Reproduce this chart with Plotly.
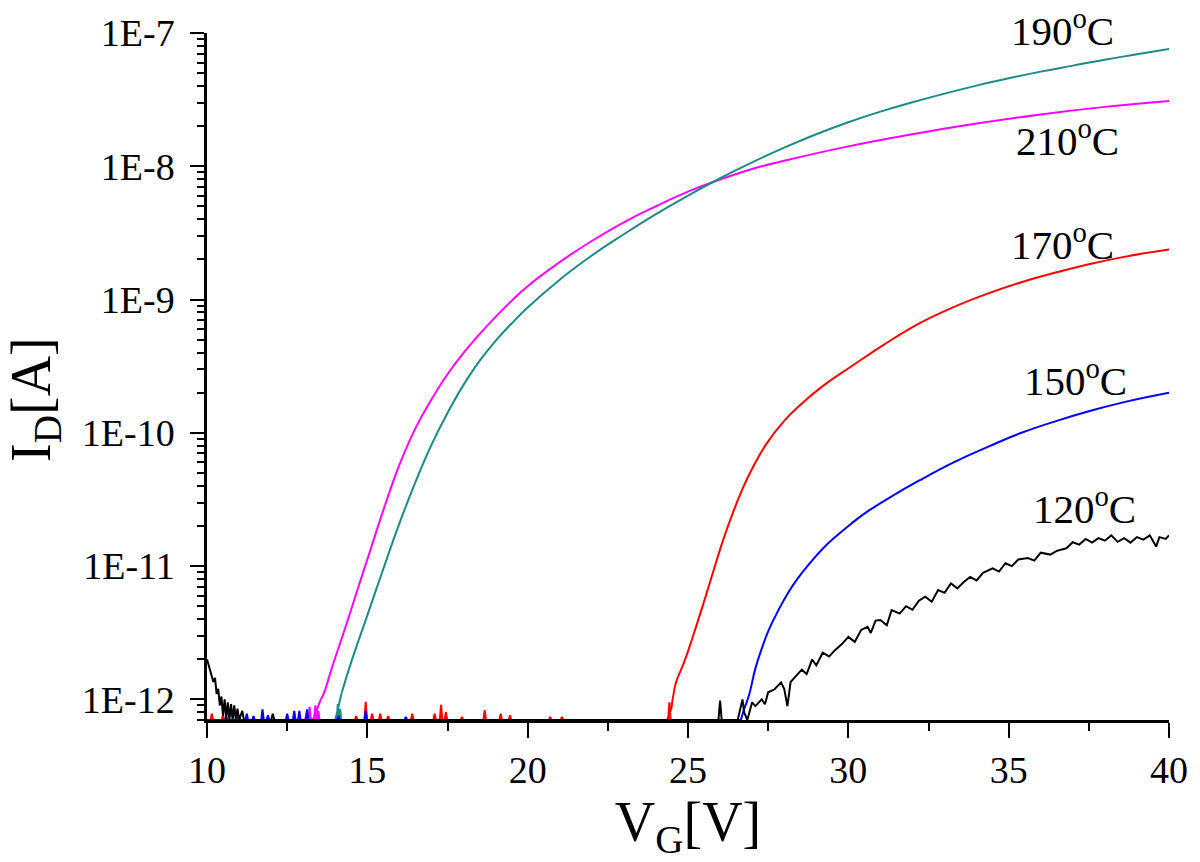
import plotly.graph_objects as go
import math

# ---------------- data (V_G in volts, I_D in amperes) ----------------
FLOOR_I = 7.0e-13  # instrument floor, shown on the bottom axis

# 210 C (magenta)
v210_floor = [10.0, 13.3]
v210_spike_v = [13.1, 13.2, 13.38, 13.47]
v210_spike_i = [0.78e-12, 0.88e-12, 0.9e-12, 0.82e-12]
v210 = [13.55, 13.65, 13.9, 14.33, 14.73, 15.04, 15.5, 16.0, 16.5, 17.0, 17.5, 18.0, 18.5, 19.0,
        19.5, 20.0, 21.0, 22.0, 23.0, 24.0, 25.0, 26.0, 27.0, 28.0, 30.0, 32.0, 34.0, 36.0, 38.0, 40.0]
i210 = [1.0e-12, 1.12e-12, 1.74e-12, 3.55e-12, 7.08e-12, 1.2e-11, 2.63e-11, 5.75e-11, 1.08e-10,
        1.78e-10, 2.75e-10, 3.98e-10, 5.5e-10, 7.41e-10, 9.77e-10, 1.26e-9, 1.91e-9, 2.75e-9, 3.8e-9,
        5.01e-9, 6.46e-9, 7.94e-9, 9.55e-9, 1.10e-8, 1.41e-8, 1.74e-8, 2.09e-8, 2.45e-8, 2.79e-8,
        3.09e-8]

# 190 C (teal)
v190_floor = [10.0, 14.0]
v190_spike_v = [14.08, 14.15]
v190_spike_i = [0.92e-12, 0.85e-12]
v190 = [14.2, 14.5, 15.0, 15.5, 16.0, 16.5, 17.0, 17.5, 18.0, 18.5, 19.0, 19.5, 20.0, 21.0, 22.0,
        23.0, 24.0, 25.0, 26.0, 27.0, 28.0, 29.0, 30.0, 31.0, 32.0, 33.0, 34.0, 35.0, 36.0, 37.0,
        38.0, 39.0, 40.0]
i190 = [1.12e-12, 1.91e-12, 4.27e-12, 9.55e-12, 2.09e-11, 4.27e-11, 8.13e-11, 1.41e-10, 2.29e-10,
        3.47e-10, 4.9e-10, 6.61e-10, 8.71e-10, 1.41e-9, 2.14e-9, 3.09e-9, 4.37e-9, 6.03e-9, 8.13e-9,
        1.07e-8, 1.38e-8, 1.74e-8, 2.14e-8, 2.57e-8, 3.02e-8, 3.51e-8, 4.03e-8, 4.57e-8, 5.13e-8,
        5.69e-8, 6.31e-8, 6.92e-8, 7.59e-8]

# 170 C (red)
v170_floor = [10.0, 24.35]
v170_spike_v = [10.15, 10.5, 14.65, 14.95, 15.15, 15.4, 15.65, 16.4, 17.1, 17.3, 17.45, 17.95,
                18.66, 19.16, 19.45, 20.7, 21.07, 24.42]
v170_spike_i = [0.78e-12, 0.76e-12, 0.75e-12, 0.96e-12, 0.78e-12, 0.78e-12, 0.75e-12, 0.78e-12,
                0.78e-12, 0.91e-12, 0.8e-12, 0.74e-12, 0.83e-12, 0.78e-12, 0.76e-12, 0.74e-12,
                0.74e-12, 0.95e-12]
v170 = [24.48, 24.55, 24.63, 24.88, 25.15, 25.47, 25.75, 26.1, 26.4, 26.7, 27.0, 27.45, 28.0, 28.5,
        29.2, 30.1, 31.1, 32.2, 33.3, 34.4, 35.4, 36.5, 37.5, 38.6, 40.0]
i170 = [0.85e-12, 1.1e-12, 1.35e-12, 1.9e-12, 2.95e-12, 5.13e-12, 8.5e-12, 1.58e-11, 2.51e-11,
        3.80e-11, 5.37e-11, 8.3e-11, 1.23e-10, 1.62e-10, 2.24e-10, 3.16e-10, 4.57e-10, 6.6e-10,
        8.81e-10, 1.12e-9, 1.35e-9, 1.60e-9, 1.84e-9, 2.09e-9, 2.37e-9]

# 150 C (blue)
v150_floor = [10.0, 26.65]
v150_spike_v = [10.6, 11.0, 11.24, 11.45, 11.73, 11.9, 12.5, 12.72, 12.88, 13.12, 14.1, 14.95, 16.2]
v150_spike_i = [0.74e-12, 0.76e-12, 0.78e-12, 0.75e-12, 0.84e-12, 0.76e-12, 0.78e-12, 0.82e-12,
                0.82e-12, 0.84e-12, 0.75e-12, 0.82e-12, 0.74e-12]
v150 = [26.75, 26.9, 27.1, 27.3, 27.5, 27.8, 28.1, 28.4, 28.8, 29.2, 29.6, 30.1, 30.6, 31.4, 32.2,
        33.3, 34.4, 35.4, 36.5, 37.5, 38.6, 40.0]
i150 = [0.85e-12, 1.07e-12, 1.70e-12, 2.40e-12, 3.24e-12, 4.57e-12, 6.17e-12, 7.94e-12, 1.05e-11,
        1.35e-11, 1.66e-11, 2.09e-11, 2.57e-11, 3.39e-11, 4.37e-11, 6.03e-11, 7.94e-11, 1.0e-10,
        1.23e-10, 1.45e-10, 1.70e-10, 2.0e-10]

# 120 C (black, noisy)
v120 = [10.0, 10.08, 10.15, 10.2, 10.25, 10.3, 10.35, 10.4, 10.45, 10.5, 10.55, 10.6, 10.65, 10.7,
        10.75, 10.8, 10.85, 10.9, 10.95, 11.0, 11.1, 11.15, 12.0, 12.05, 12.1, 25.95, 26.0, 26.05,
        26.55, 26.7, 26.75, 26.85, 27.0, 27.1, 27.3, 27.4, 27.5, 27.7, 27.9, 28.0, 28.1, 28.2, 28.35,
        28.55, 28.7, 28.87, 29.0, 29.2, 29.4, 29.6, 29.8, 30.0, 30.2, 30.4, 30.6, 30.7, 30.85, 31.0,
        31.2, 31.35, 31.6, 31.8, 32.0, 32.2, 32.4, 32.6, 32.8, 33.0, 33.2, 33.4, 33.6, 33.8, 34.0,
        34.2, 34.5, 34.7, 34.9, 35.1, 35.3, 35.6, 35.8, 36.0, 36.3, 36.5, 36.8, 37.0, 37.2, 37.4,
        37.6, 37.8, 38.0, 38.2, 38.4, 38.6, 38.8, 39.0, 39.2, 39.4, 39.6, 39.7, 39.9, 40.0]
i120 = [2.0e-12, 1.7e-12, 1.55e-12, 1.35e-12, 1.45e-12, 1.1e-12, 1.2e-12, 0.9e-12, 1.05e-12,
        0.75e-12, 1.0e-12, 0.72e-12, 0.95e-12, 0.7e-12, 0.92e-12, 0.7e-12, 0.9e-12, 0.7e-12,
        0.85e-12, 0.7e-12, 0.82e-12, 0.7e-12, 0.7e-12, 0.78e-12, 0.7e-12, 0.7e-12, 0.98e-12,
        0.7e-12, 0.7e-12, 1.0e-12, 0.8e-12, 0.7e-12, 0.95e-12, 0.89e-12, 1.0e-12, 0.92e-12,
        1.13e-12, 1.19e-12, 1.34e-12, 1.2e-12, 0.89e-12, 1.35e-12, 1.48e-12, 1.67e-12, 1.55e-12,
        1.99e-12, 1.8e-12, 2.24e-12, 2.1e-12, 2.36e-12, 2.6e-12, 2.94e-12, 2.7e-12, 3.32e-12,
        3.5e-12, 3.15e-12, 3.9e-12, 3.94e-12, 3.6e-12, 4.68e-12, 4.4e-12, 5.0e-12, 4.7e-12,
        5.5e-12, 5.9e-12, 5.4e-12, 6.6e-12, 6.3e-12, 7.4e-12, 6.8e-12, 7.6e-12, 8.3e-12, 7.8e-12,
        8.9e-12, 9.6e-12, 9.1e-12, 1.05e-11, 1.0e-11, 1.12e-11, 1.15e-11, 1.1e-11, 1.26e-11,
        1.22e-11, 1.3e-11, 1.36e-11, 1.51e-11, 1.45e-11, 1.6e-11, 1.5e-11, 1.62e-11, 1.55e-11,
        1.7e-11, 1.52e-11, 1.62e-11, 1.5e-11, 1.65e-11, 1.58e-11, 1.7e-11, 1.4e-11, 1.65e-11,
        1.6e-11, 1.7e-11]

labels = ["190<sup>o</sup>C", "210<sup>o</sup>C", "170<sup>o</sup>C", "150<sup>o</sup>C", "120<sup>o</sup>C"]
label_v = [36.69, 36.85, 36.69, 37.09, 37.37]
label_i = [1.089e-7, 1.626e-8, 2.69e-9, 2.58e-10, 2.82e-11]

y_tick_vals = [1e-12, 1e-11, 1e-10, 1e-9, 1e-8, 1e-7]
y_tick_text = ["1E-12", "1E-11", "1E-10", "1E-9", "1E-8", "1E-7"]
x_tick_vals = [10, 15, 20, 25, 30, 35, 40]

x_title = "V<sub>G</sub>[V]"
y_title = "I<sub>D</sub>[A]"

# ---------------- figure ----------------
FONT = "Liberation Serif, Times New Roman, serif"
C210, C190, C170, C150, C120 = "#ff00ff", "#1e8a8a", "#ff0000", "#0000ff", "#000000"
Y_MIN, Y_MAX = math.log10(7e-13), -7.0


def floor_trace(rng, sv, si):
    xs, ys = [rng[0]], [FLOOR_I]
    for v, i in sorted(zip(sv, si)):
        xs += [v - 0.04, v, v + 0.04]
        ys += [FLOOR_I, i, FLOOR_I]
    xs.append(rng[1])
    ys.append(FLOOR_I)
    return xs, ys


fig = go.Figure()
series = [
    (v210_floor, v210_spike_v, v210_spike_i, v210, i210, C210),
    (v190_floor, v190_spike_v, v190_spike_i, v190, i190, C190),
    (v170_floor, v170_spike_v, v170_spike_i, v170, i170, C170),
    (v150_floor, v150_spike_v, v150_spike_i, v150, i150, C150),
]
for fl, sv, si, vv, ii, col in series:
    fx, fy = floor_trace(fl, sv, si)
    # join the floor segment to the rising part of the curve
    fig.add_trace(go.Scatter(x=fx + [vv[0]], y=fy + [ii[0]], mode="lines",
                             line=dict(color=col, width=2), showlegend=False, hoverinfo="skip"))
    fig.add_trace(go.Scatter(x=vv, y=ii, mode="lines",
                             line=dict(color=col, width=2, shape="spline", smoothing=1.3),
                             showlegend=False))
fig.add_trace(go.Scatter(x=v120, y=i120, mode="lines", line=dict(color=C120, width=2),
                         showlegend=False))

for t, v, i in zip(labels, label_v, label_i):
    fig.add_annotation(x=v, y=(math.log10(i) - Y_MIN) / (Y_MAX - Y_MIN), xref="x", yref="paper",
                       text=t, showarrow=False, xanchor="center", yanchor="middle",
                       font=dict(family=FONT, size=41, color="black"))

# y-axis title placed as rotated annotation
fig.add_annotation(x=-0.179, y=0.467, xref="paper", yref="paper", text=y_title, textangle=-90,
                   showarrow=False, xanchor="center", yanchor="middle",
                   font=dict(family=FONT, size=56, color="black"))

fig.update_layout(
    width=1200, height=862,
    margin=dict(l=207, r=23, t=28, b=142),
    paper_bgcolor="white", plot_bgcolor="white",
    font=dict(family=FONT, color="black"),
)
fig.update_xaxes(
    range=[10, 40], tickvals=x_tick_vals, showgrid=False, zeroline=False,
    showline=True, linecolor="black", linewidth=2.5,
    ticks="outside", ticklen=15, tickwidth=2, tickcolor="black",
    minor=dict(ticks="outside", ticklen=8, tickwidth=2, tickcolor="black", dtick=2.5, tick0=10,
               showgrid=False),
    tickfont=dict(family=FONT, size=38, color="black"),
    title=dict(text=x_title, font=dict(family=FONT, size=56, color="black"), standoff=8),
)
fig.update_yaxes(
    type="log", range=[Y_MIN, Y_MAX], tickvals=y_tick_vals, ticktext=y_tick_text,
    showgrid=False, zeroline=False, showline=True, linecolor="black", linewidth=2.5,
    ticks="outside", ticklen=14, tickwidth=2, tickcolor="black", ticklabelstandoff=8,
    minor=dict(ticks="outside", ticklen=7, tickwidth=2, tickcolor="black", dtick="D1",
               showgrid=False),
    tickfont=dict(family=FONT, size=38, color="black"),
)

fig.write_html("out.html", config={"displayModeBar": False},
               post_script="document.body.style.margin='0';document.body.style.overflow='hidden';")
